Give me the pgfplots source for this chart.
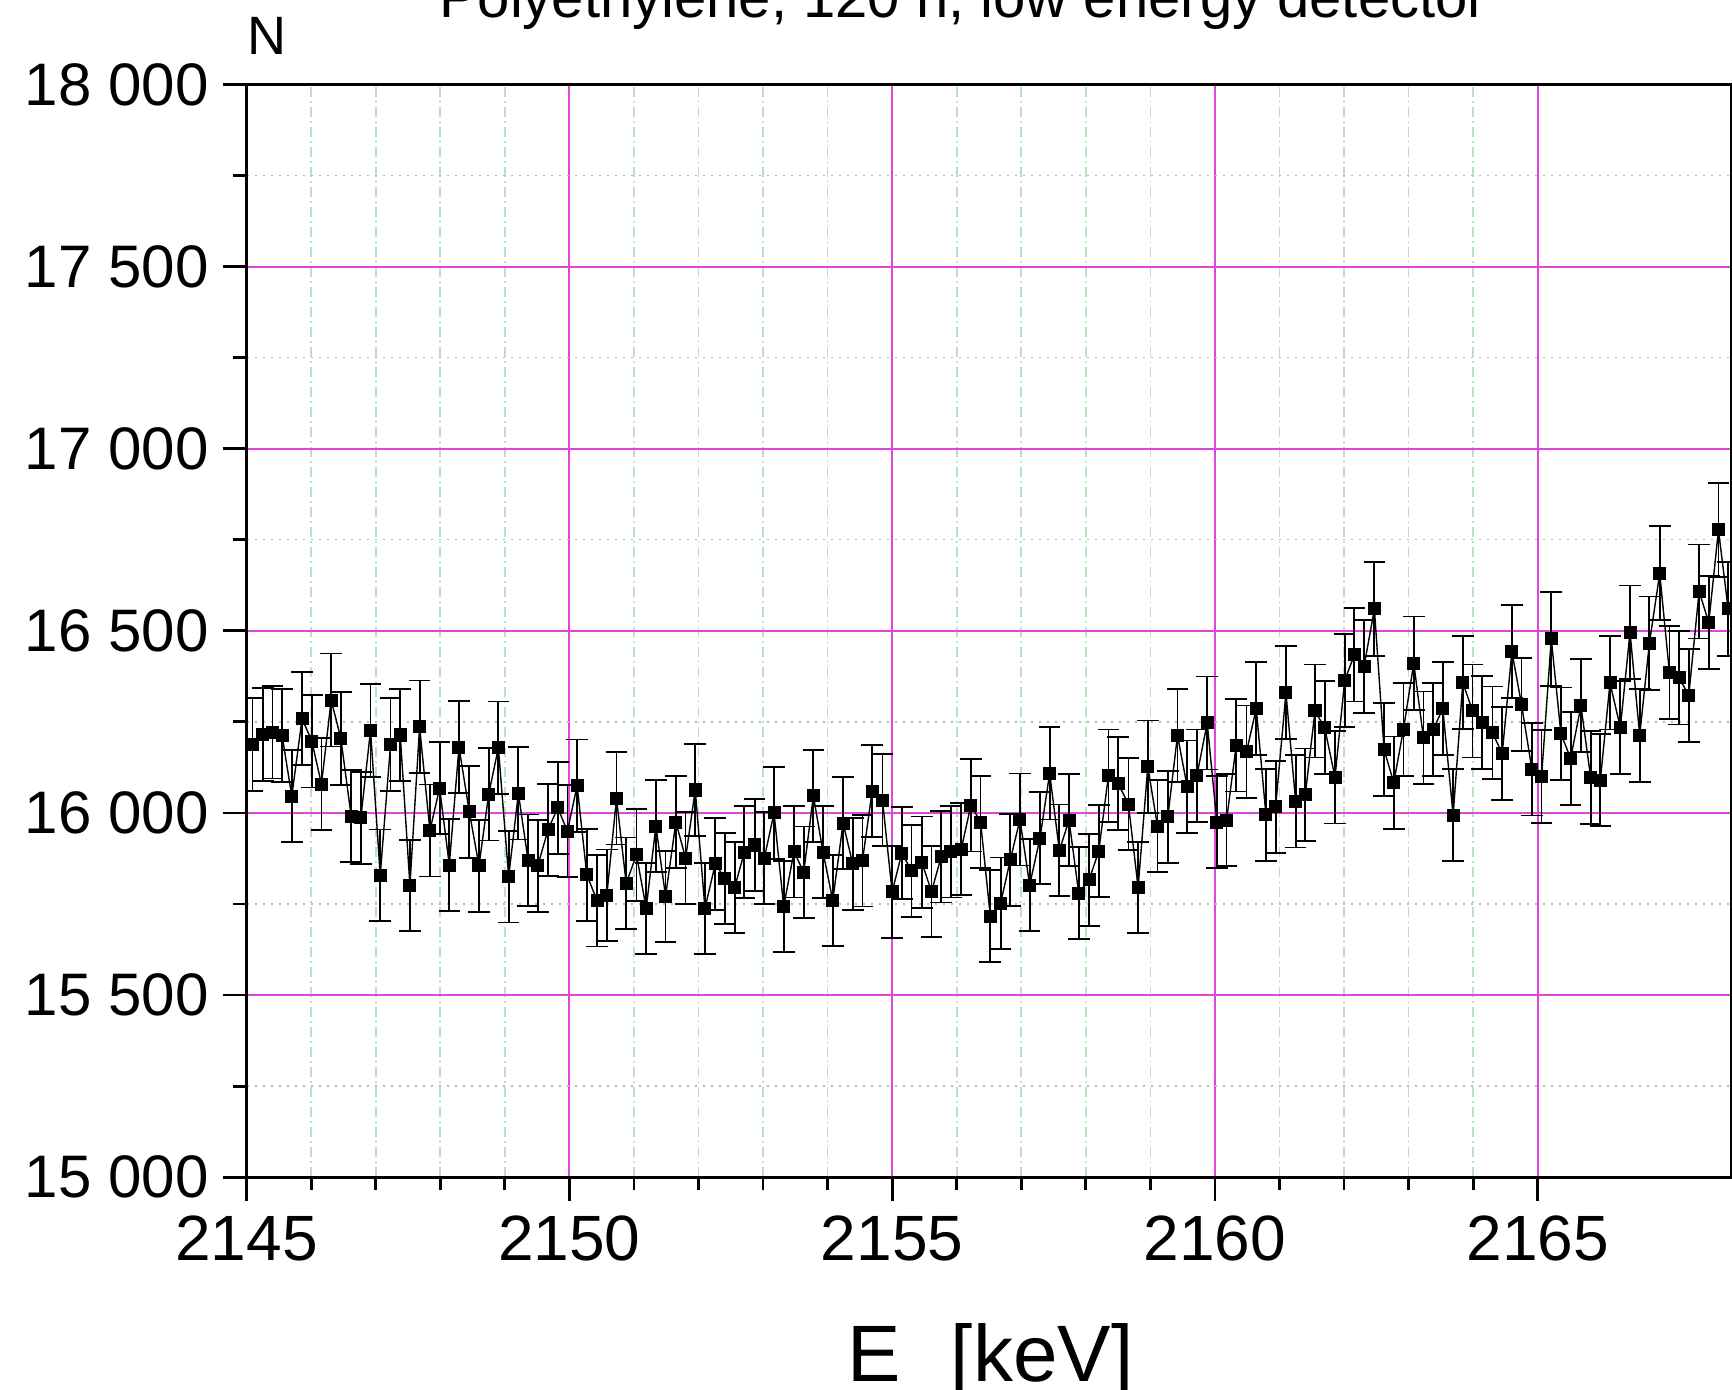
\documentclass[border=0pt]{standalone}
\usepackage{pgfplots}
\usepackage{pgfplotstable}
\usepackage{fontspec}
\pgfplotsset{compat=1.18}
\setmainfont{Liberation Sans}

\definecolor{gridmaj}{RGB}{222,70,222}
\definecolor{gridminx}{RGB}{185,228,185}
\definecolor{gridminy}{RGB}{185,185,185}

% E [keV], counts N, sqrt(N)
\pgfplotstableread{
E N dN
2145.09 16188 127.2
2145.25 16216 127.3
2145.40 16222 127.4
2145.55 16213 127.3
2145.70 16046 126.7
2145.86 16259 127.5
2146.01 16197 127.3
2146.16 16079 126.8
2146.31 16310 127.7
2146.46 16205 127.3
2146.62 15991 126.5
2146.77 15987 126.4
2146.92 16227 127.4
2147.07 15829 125.8
2147.23 16188 127.2
2147.38 16214 127.3
2147.53 15801 125.7
2147.68 16236 127.4
2147.84 15952 126.3
2147.99 16068 126.8
2148.14 15857 125.9
2148.29 16181 127.2
2148.45 16003 126.5
2148.60 15855 125.9
2148.75 16051 126.7
2148.90 16179 127.2
2149.06 15825 125.8
2149.21 16054 126.7
2149.36 15870 126.0
2149.51 15855 125.9
2149.67 15954 126.3
2149.82 16014 126.5
2149.97 15950 126.3
2150.12 16075 126.8
2150.27 15830 125.8
2150.43 15759 125.5
2150.58 15774 125.6
2150.73 16040 126.6
2150.88 15807 125.7
2151.04 15885 126.0
2151.19 15738 125.5
2151.34 15964 126.3
2151.49 15771 125.6
2151.65 15975 126.4
2151.80 15876 126.0
2151.95 16063 126.7
2152.10 15738 125.5
2152.26 15860 125.9
2152.41 15820 125.8
2152.56 15795 125.7
2152.71 15892 126.1
2152.87 15912 126.1
2153.02 15876 126.0
2153.17 16000 126.5
2153.32 15743 125.5
2153.48 15894 126.1
2153.63 15837 125.8
2153.78 16047 126.7
2153.93 15892 126.1
2154.08 15760 125.5
2154.24 15972 126.4
2154.39 15860 125.9
2154.54 15869 126.0
2154.69 16060 126.7
2154.85 16035 126.6
2155.00 15783 125.6
2155.15 15890 126.1
2155.30 15841 125.9
2155.46 15864 126.0
2155.61 15784 125.6
2155.76 15880 126.0
2155.91 15894 126.1
2156.07 15901 126.1
2156.22 16021 126.6
2156.37 15975 126.4
2156.52 15717 125.4
2156.68 15752 125.5
2156.83 15871 126.0
2156.98 15982 126.4
2157.13 15802 125.7
2157.29 15931 126.2
2157.44 16109 126.9
2157.59 15897 126.1
2157.74 15980 126.4
2157.89 15780 125.6
2158.05 15816 125.8
2158.20 15895 126.1
2158.35 16102 126.9
2158.50 16081 126.8
2158.66 16024 126.6
2158.81 15795 125.7
2158.96 16127 127.0
2159.11 15964 126.3
2159.27 15989 126.4
2159.42 16213 127.3
2159.57 16072 126.8
2159.72 16102 126.9
2159.88 16247 127.5
2160.03 15975 126.4
2160.18 15980 126.4
2160.33 16186 127.2
2160.49 16168 127.2
2160.64 16287 127.6
2160.79 15995 126.5
2160.94 16017 126.6
2161.10 16330 127.8
2161.25 16032 126.6
2161.40 16050 126.7
2161.55 16280 127.6
2161.70 16234 127.4
2161.86 16098 126.9
2162.01 16364 127.9
2162.16 16434 128.2
2162.31 16402 128.1
2162.47 16560 128.7
2162.62 16174 127.2
2162.77 16083 126.8
2162.92 16229 127.4
2163.08 16411 128.1
2163.23 16206 127.3
2163.38 16229 127.4
2163.53 16286 127.6
2163.69 15994 126.5
2163.84 16358 127.9
2163.99 16280 127.6
2164.14 16248 127.5
2164.30 16220 127.4
2164.45 16163 127.1
2164.60 16443 128.2
2164.75 16297 127.7
2164.91 16120 127.0
2165.06 16100 126.9
2165.21 16478 128.4
2165.36 16217 127.3
2165.51 16150 127.1
2165.67 16294 127.6
2165.82 16097 126.9
2165.97 16090 126.8
2166.12 16357 127.9
2166.28 16234 127.4
2166.43 16496 128.4
2166.58 16213 127.3
2166.73 16466 128.3
2166.89 16658 129.1
2167.04 16386 128.0
2167.19 16371 127.9
2167.34 16323 127.8
2167.50 16608 128.9
2167.65 16523 128.5
2167.80 16777 129.5
2167.95 16560 128.7
}\spectrum

\begin{document}
\begin{tikzpicture}
\begin{axis}[
  scale only axis,
  width=371.1pt,
  height=273.1pt,
  xmin=2145, xmax=2168,
  ymin=15000, ymax=18000,
  xtick={2145,2150,2155,2160,2165},
  ytick={15000,15500,16000,16500,17000,17500,18000},
  minor x tick num=4,
  minor y tick num=1,
  scaled x ticks=false,
  scaled y ticks=false,
  tick pos=left,
  tick align=outside,
  major tick length=6pt,
  minor tick length=3.3pt,
  tick style={black, line width=0.7pt},
  axis line style={black, line width=0.7pt},
  grid=both,
  major grid style={gridmaj, line width=0.55pt, solid},
  minor x grid style={gridminx, line width=0.4pt, dash pattern=on 2.5pt off 1pt on 0.5pt off 1pt},
  minor y grid style={gridminy, line width=0.35pt, dash pattern=on 0.6pt off 1.4pt},
  /pgf/number format/assume math mode=true,
  x tick label style={font=\fontsize{16}{19}\selectfont, /pgf/number format/1000 sep={}},
  y tick label style={font=\fontsize{15}{18}\selectfont, /pgf/number format/1000 sep={\ }},
  clip mode=individual,
]
\addplot+[black, solid, line width=0.35pt,
  mark=square*, mark size=1.45pt, mark options={solid, fill=black},
  error bars/.cd, y dir=both, y explicit,
  error bar style={black, line width=0.45pt},
  error mark options={rotate=90, black, mark size=2.7pt, line width=0.45pt}]
  table[x=E, y=N, y error=dN] {\spectrum};

\node[anchor=base, font=\fontsize{14.5}{17}\selectfont] at (axis cs:2156.1,18185)
  {Polyethylene, 120 h, low energy detector};
\node[anchor=base west, inner sep=0pt, font=\fontsize{13.5}{16}\selectfont] at (axis cs:2145,18081) {N};
\node[anchor=base, font=\fontsize{20}{24}\selectfont] at (axis cs:2156.52,14440)
  {E\raisebox{-0.5em}{\fontsize{14}{16}\selectfont γ} [keV]};

\coordinate (bbsw) at (axis cs:2141.18,14418);
\coordinate (bbne) at (axis cs:2168.01,18232);
\end{axis}
\pgfresetboundingbox
\useasboundingbox (bbsw) rectangle (bbne);
\end{tikzpicture}
\end{document}
